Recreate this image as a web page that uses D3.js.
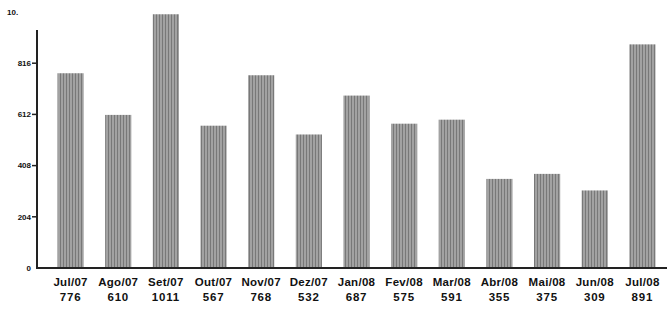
<!DOCTYPE html>
<html>
<head>
<meta charset="utf-8">
<script src="https://cdn.jsdelivr.net/npm/d3@7"></script>
<style>
  body { margin: 0; background: #fff; }
  text { font-family: "Liberation Sans", Arial, sans-serif; fill: #111; }
</style>
</head>
<body>
<div id="chart"></div>
<script>
var w = 667;
var h = 310;

var months = ["Jul/07", "Ago/07", "Set/07", "Out/07", "Nov/07", "Dez/07", "Jan/08",
  "Fev/08", "Mar/08", "Abr/08", "Mai/08", "Jun/08", "Jul/08"];
var values = [776, 610, 1011, 567, 768, 532, 687, 575, 591, 355, 375, 309, 891];
var yTicks = [0, 204, 408, 612, 816, 1020];

var svg = d3.select("#chart")
  .append("svg")
  .attr("width", w)
  .attr("height", h);

// striped grey fill, like the scanned bars
var defs = svg.append("defs");
var pat = defs.append("pattern")
  .attr("id", "stripes")
  .attr("patternUnits", "userSpaceOnUse")
  .attr("width", 3)
  .attr("height", 4);
pat.append("rect").attr("width", 3).attr("height", 4).attr("fill", "#a2a2a2");
pat.append("rect").attr("width", 1).attr("height", 4).attr("fill", "#787878");

var x = d3.scaleBand()
  .domain(months)
  .range([47, 666])
  .paddingInner(0.45)
  .paddingOuter(0.22);

var y = d3.scaleLinear()
  .domain([0, 1020])
  .range([268, 12]);

// bars
svg.selectAll("rect.bar")
  .data(values)
  .enter()
  .append("rect")
  .attr("class", "bar")
  .attr("x", (d, i) => x(months[i]))
  .attr("y", d => y(d))
  .attr("width", x.bandwidth())
  .attr("height", d => y(0) - y(d))
  .attr("fill", "url(#stripes)");

// y axis line (scan starts it a bit below the top tick)
svg.append("line")
  .attr("x1", 37).attr("x2", 37)
  .attr("y1", 30).attr("y2", y(0))
  .attr("stroke", "#222")
  .attr("stroke-width", 2);

// baseline
svg.append("line")
  .attr("x1", 36).attr("x2", 667)
  .attr("y1", y(0)).attr("y2", y(0))
  .attr("stroke", "#222")
  .attr("stroke-width", 2);

// y ticks
var tk = svg.selectAll("g.ytick")
  .data(yTicks)
  .enter()
  .append("g")
  .attr("class", "ytick")
  .attr("transform", d => "translate(0," + y(d) + ")");

tk.filter(d => d > 0 && d < 1020)
  .append("line")
  .attr("x1", 32).attr("x2", 37)
  .attr("stroke", "#222")
  .attr("stroke-width", 1.5);

tk.append("text")
  .attr("x", d => d == 1020 ? 7 : 31)
  .attr("dy", "0.35em")
  .attr("text-anchor", d => d == 1020 ? "start" : "end")
  .style("font-size", "8px")
  .style("font-weight", "bold")
  .text(d => d == 1020 ? "10." : d);

// category labels with the values underneath
svg.selectAll("text.month")
  .data(months)
  .enter()
  .append("text")
  .attr("class", "month")
  .attr("x", d => x(d) + x.bandwidth() / 2)
  .attr("y", 286)
  .attr("text-anchor", "middle")
  .style("font-size", "11.5px")
  .style("font-weight", "bold")
  .style("letter-spacing", "0.3px")
  .text(d => d);

svg.selectAll("text.val")
  .data(values)
  .enter()
  .append("text")
  .attr("class", "val")
  .attr("x", (d, i) => x(months[i]) + x.bandwidth() / 2)
  .attr("y", 301)
  .attr("text-anchor", "middle")
  .style("font-size", "11.5px")
  .style("font-weight", "bold")
  .style("letter-spacing", "0.8px")
  .text(d => d);
</script>
</body>
</html>
